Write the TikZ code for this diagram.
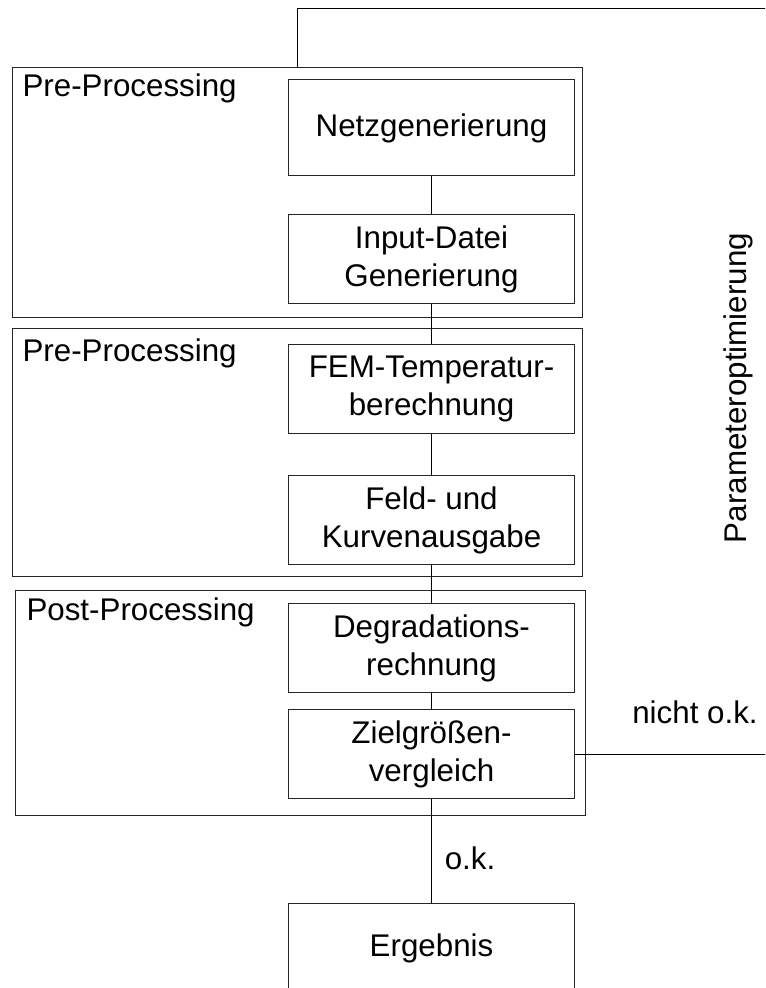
\documentclass[tikz,border=0pt]{standalone}
\usepackage{fontspec}
\setmainfont{Liberation Sans}
\begin{document}
\begin{tikzpicture}[x=0.75pt,y=-0.75pt,line width=0.75pt,
 every node/.style={font=\fontsize{23.5}{28.5}\selectfont,align=center},
 stepbox/.style={draw=black!85,minimum width=215pt,minimum height=67pt,inner sep=2pt},
 frame/.style={draw=black!85}]
\useasboundingbox (0,0) rectangle (765,988);
\clip (0,0) rectangle (765,988);
% phases
\draw[frame](12,68)rectangle(582,317);
\draw[frame](12,328)rectangle(582,576);
\draw[frame](15,590)rectangle(585,815);
\node[anchor=base west,inner sep=0pt] (preA) at (22,97) {Pre-Processing};
\node[anchor=base west,inner sep=0pt] (preB) at (22,361) {Pre-Processing};
\node[anchor=base west,inner sep=0pt] (post) at (26,620) {Post-Processing};
% steps
\node[stepbox,minimum height=72pt] (netz) at (431.5,128) {Netzgenerierung};
\node[stepbox] (input) at (431.5,259) {Input-Datei\\Generierung};
\node[stepbox] (fem) at (431.5,389) {FEM-Temperatur-\\berechnung};
\node[stepbox] (feld) at (431.5,520) {Feld- und\\Kurvenausgabe};
\node[stepbox] (degr) at (431.5,648) {Degradations-\\rechnung};
\node[stepbox] (ziel) at (431.5,754) {Zielgrößen-\\vergleich};
\node[stepbox] (erg) at (431.5,948) {Ergebnis};
\draw(netz)--(input);
\draw(input)--(fem);
\draw(fem)--(feld);
\draw(feld)--(degr);
\draw(degr)--(ziel);
\draw(ziel)--(erg);
\node (ok) at (470,858) {o.k.};
% loop back
\coordinate (fb) at (297,68);
\coordinate (topR) at (766,9);
\coordinate (okR) at (766,754);
\draw(fb)|-(topR);
\draw(ziel.east)--(okR);
\node[anchor=base] (nok) at (695,723) {nicht o.k.};
\node[rotate=90] (param) at (738,388) {Parameteroptimierung};
\end{tikzpicture}
\end{document}
